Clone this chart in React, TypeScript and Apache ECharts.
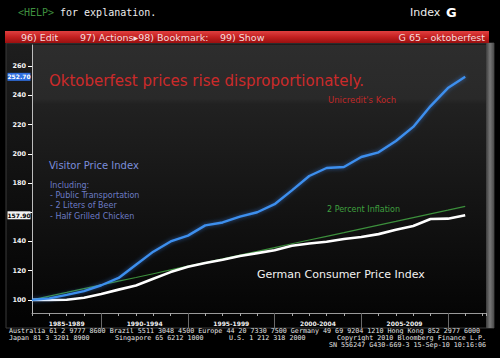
import React, { useEffect, useRef } from "react";
import * as echarts from "echarts";

const years = [1985, 1986, 1987, 1988, 1989, 1990, 1991, 1992, 1993, 1994, 1995, 1996, 1997, 1998, 1999, 2000, 2001, 2002, 2003, 2004, 2005, 2006, 2007, 2008, 2009, 2010];
const visitorIndex = [100, 101, 103.4, 106, 110, 115, 124, 133, 140, 144, 151, 153, 157, 160, 165.5, 175, 184.8, 190.3, 191, 197.8, 201, 208.8, 218.4, 232.7, 245, 252.7];
const cpiIndex = [100, 99.9, 100.1, 101.4, 104, 107, 109.8, 114.4, 119, 122.6, 125.3, 127.4, 130, 132, 134, 137, 138.6, 139.8, 141.7, 143, 145, 148, 150.6, 155.4, 155.6, 157.9];
const inflation2pct = [100, 102.6, 105.1, 107.7, 110.3, 112.8, 115.3, 117.9, 120.5, 123.1, 125.6, 128.1, 130.7, 133.2, 135.8, 138.4, 141, 143.5, 146, 148.6, 151.2, 153.7, 156.3, 158.9, 161.4, 164];
const periodLabels = ["1985-1989", "1990-1994", "1995-1999", "2000-2004", "2005-2009"];
const periodEnds = [1989, 1994, 1999, 2004, 2009];
const yTicks = [100, 120, 140, 160, 180, 200, 220, 240, 260];
// the 160 label is hidden behind the last-value box in the reference
const yLabels = [100, 120, 140, 180, 200, 220, 240, 260];

const labelPositions = periodEnds.map((e, i) => (i === 0 ? (years[0] + e) / 2 : (periodEnds[i - 1] + e) / 2));

const pairs = (vals: number[]) => years.map((y, i) => [y, vals[i]]);

export default function App() {
  const ref = useRef<HTMLDivElement>(null);
  useEffect(() => {
    if (!ref.current) return;
    const chart = echarts.init(ref.current, null, { renderer: "svg" });
    const mono = "DejaVu Sans Mono";
    const sans = "DejaVu Sans";
    const footerColor = "#e6e6e6";
    const lastMark = (vals: number[], bg: string, fg: string) => ({
      symbol: "rect",
      symbolSize: [23, 8],
      symbolOffset: [-13, 0],
      itemStyle: { color: bg },
      label: {
        show: true,
        position: "inside",
        color: fg,
        fontSize: 6,
        fontWeight: "bold",
        fontFamily: sans,
        formatter: (p: any) => Number(p.value).toFixed(2),
      },
      data: [{ coord: [years[0], vals[vals.length - 1]], value: vals[vals.length - 1] }],
    });
    chart.setOption({
      animation: false,
      backgroundColor: "#000",
      grid: { left: 32, right: 14, top: 45, bottom: 45 },
      xAxis: [
        {
          type: "value",
          min: 1985,
          max: 2011.2,
          interval: 1,
          axisLine: { show: true, lineStyle: { color: "#9a9a9a", width: 1 } },
          axisTick: { show: true, length: 3, lineStyle: { color: "#aaa" } },
          axisLabel: { show: false },
          splitLine: { show: false },
        },
        {
          type: "value",
          position: "bottom",
          min: 1985,
          max: 2011.2,
          axisLine: { show: false },
          axisTick: { show: true, length: 16, customValues: periodEnds, lineStyle: { color: "#6a6a6a" } },
          axisLabel: {
            show: true,
            customValues: labelPositions,
            margin: 7,
            fontSize: 6,
            fontWeight: "bold",
            fontFamily: sans,
            color: "#f0f0f0",
            formatter: (v: number) => {
              const i = labelPositions.findIndex((p) => Math.abs(p - v) < 1e-6);
              return i >= 0 ? periodLabels[i] : "";
            },
          },
          splitLine: { show: false },
        },
      ],
      yAxis: {
        type: "value",
        min: 91,
        max: 274.5,
        axisLine: { show: true, lineStyle: { color: "#bdbdbd", width: 1 } },
        axisTick: { show: true, length: 4, customValues: yTicks, lineStyle: { color: "#fff" } },
        axisLabel: {
          show: true,
          customValues: yLabels,
          margin: 6,
          fontSize: 6.5,
          fontWeight: "bold",
          fontFamily: sans,
          color: "#f4f4f4",
        },
        splitLine: { show: false },
      },
      graphic: [
        { type: "rect", z: -10, shape: { x: 6, y: 43, width: 488, height: 285 }, style: { fill: { type: "linear", x: 0, y: 0, x2: 0, y2: 1, colorStops: [{ offset: 0, color: "#1e1e1e" }, { offset: 1, color: "#020202" }] }, stroke: "#3a3a3a", lineWidth: 1 } },
        { type: "rect", z: -9, shape: { x: 32, y: 45, width: 454, height: 268 }, style: { fill: { type: "linear", x: 0, y: 0, x2: 0, y2: 1, colorStops: [{ offset: 0, color: "#2d2d2d" }, { offset: 0.2, color: "#292929" }, { offset: 0.22, color: "#212121" }, { offset: 0.5, color: "#171717" }, { offset: 1, color: "#050505" }] } } },
        { type: "rect", z: -8, shape: { x: 486, y: 43, width: 8, height: 285 }, style: { fill: { type: "linear", x: 0, y: 0, x2: 1, y2: 0, colorStops: [{ offset: 0, color: "#3c3c3c" }, { offset: 0.5, color: "#777" }, { offset: 1, color: "#4a4a4a" }] } } },
        { type: "rect", z: -8, shape: { x: 5, y: 31, width: 484, height: 12 }, style: { fill: { type: "linear", x: 0, y: 0, x2: 0, y2: 1, colorStops: [{ offset: 0, color: "#e04040" }, { offset: 0.5, color: "#c42020" }, { offset: 1, color: "#9a1010" }] } } },
        { type: "text", x: 18, y: 12, style: { text: "<HELP>", fill: "#3f8f3f", font: `10px "${mono}"`, textVerticalAlign: "middle" } },
        { type: "text", x: 60, y: 12, style: { text: "for explanation.", fill: "#eeeeee", font: `10px "${mono}"`, textVerticalAlign: "middle" } },
        { type: "text", x: 410, y: 12, style: { text: "Index", fill: "#eeeeee", font: `11px "${sans}"`, textVerticalAlign: "middle" } },
        { type: "text", x: 446, y: 12, style: { text: "G", fill: "#ffffff", font: `bold 13px "${sans}"`, textVerticalAlign: "middle" } },
        { type: "text", x: 21, y: 37, style: { text: "96) Edit", fill: "#f5dcdc", font: `9.5px "${sans}"`, textVerticalAlign: "middle" } },
        { type: "text", x: 80, y: 37, style: { text: "97) Actions\u25B898) Bookmark:", fill: "#f5dcdc", font: `9.5px "${sans}"`, textVerticalAlign: "middle" } },
        { type: "text", x: 220, y: 37, style: { text: "99) Show", fill: "#f5dcdc", font: `9.5px "${sans}"`, textVerticalAlign: "middle" } },
        { type: "text", x: 485, y: 37, style: { text: "G 65 - oktoberfest", fill: "#f5dcdc", font: `9.5px "${sans}"`, textAlign: "right", textVerticalAlign: "middle" } },
        { type: "text", x: 49, y: 81, style: { text: "Oktoberfest prices rise disproportionately.", fill: "#cc2a2a", font: `15px "${sans}"`, textVerticalAlign: "middle" } },
        { type: "text", x: 328, y: 100, style: { text: "Unicredit's Koch", fill: "#c02828", font: `8.5px "${sans}"`, textVerticalAlign: "middle" } },
        { type: "text", x: 49, y: 165, style: { text: "Visitor Price Index", fill: "#7b8ddb", font: `10px "${sans}"`, textVerticalAlign: "middle" } },
        { type: "text", x: 50, y: 185, style: { text: "Including:", fill: "#6c7cc6", font: `8px "${sans}"`, textVerticalAlign: "middle" } },
        { type: "text", x: 50, y: 195, style: { text: "- Public Transportation", fill: "#6c7cc6", font: `8px "${sans}"`, textVerticalAlign: "middle" } },
        { type: "text", x: 50, y: 205, style: { text: "- 2 Liters of Beer", fill: "#6c7cc6", font: `8px "${sans}"`, textVerticalAlign: "middle" } },
        { type: "text", x: 50, y: 216, style: { text: "- Half Grilled Chicken", fill: "#6c7cc6", font: `8px "${sans}"`, textVerticalAlign: "middle" } },
        { type: "text", x: 327, y: 209, style: { text: "2 Percent Inflation", fill: "#3fa03f", font: `8px "${sans}"`, textVerticalAlign: "middle" } },
        { type: "text", x: 257, y: 274, style: { text: "German Consumer Price Index", fill: "#f2f2f2", font: `11px "${sans}"`, textVerticalAlign: "middle" } },
        { type: "text", x: 9, y: 331, style: { text: "Australia 61 2 9777 8600 Brazil 5511 3048 4500 Europe 44 20 7330 7500 Germany 49 69 9204 1210 Hong Kong 852 2977 6000", fill: footerColor, font: `6.7px "${mono}"`, textVerticalAlign: "middle" } },
        { type: "text", x: 9, y: 338, style: { text: "Japan 81 3 3201 8900", fill: footerColor, font: `6.7px "${mono}"`, textVerticalAlign: "middle" } },
        { type: "text", x: 115, y: 338, style: { text: "Singapore 65 6212 1000", fill: footerColor, font: `6.7px "${mono}"`, textVerticalAlign: "middle" } },
        { type: "text", x: 229, y: 338, style: { text: "U.S. 1 212 318 2000", fill: footerColor, font: `6.7px "${mono}"`, textVerticalAlign: "middle" } },
        { type: "text", x: 486, y: 338, style: { text: "Copyright 2010 Bloomberg Finance L.P.", fill: footerColor, font: `6.7px "${mono}"`, textAlign: "right", textVerticalAlign: "middle" } },
        { type: "text", x: 486, y: 345, style: { text: "SN 556247 G430-669-3 15-Sep-10 10:16:06", fill: footerColor, font: `6.7px "${mono}"`, textAlign: "right", textVerticalAlign: "middle" } },
      ],
      series: [
        {
          name: "2 Percent Inflation",
          type: "line",
          data: pairs(inflation2pct),
          showSymbol: false,
          clip: false,
          lineStyle: { color: "#3c8f3c", width: 1.2 },
          z: 3,
        },
        {
          name: "German Consumer Price Index",
          type: "line",
          data: pairs(cpiIndex),
          showSymbol: false,
          clip: false,
          lineStyle: { color: "#ffffff", width: 2.6 },
          markPoint: lastMark(cpiIndex, "#f2f2f2", "#000"),
          z: 4,
        },
        {
          name: "Visitor Price Index",
          type: "line",
          data: pairs(visitorIndex),
          showSymbol: false,
          clip: false,
          lineStyle: { color: "#3d8fee", width: 2.4, shadowBlur: 4, shadowColor: "rgba(60,140,255,0.6)" },
          markPoint: lastMark(visitorIndex, "#2f6fe0", "#fff"),
          z: 5,
        },
      ],
    });
    return () => chart.dispose();
  }, []);
  return <div ref={ref} style={{ position: "absolute", left: 0, top: 0, width: 500, height: 358, background: "#000" }} />;
}
